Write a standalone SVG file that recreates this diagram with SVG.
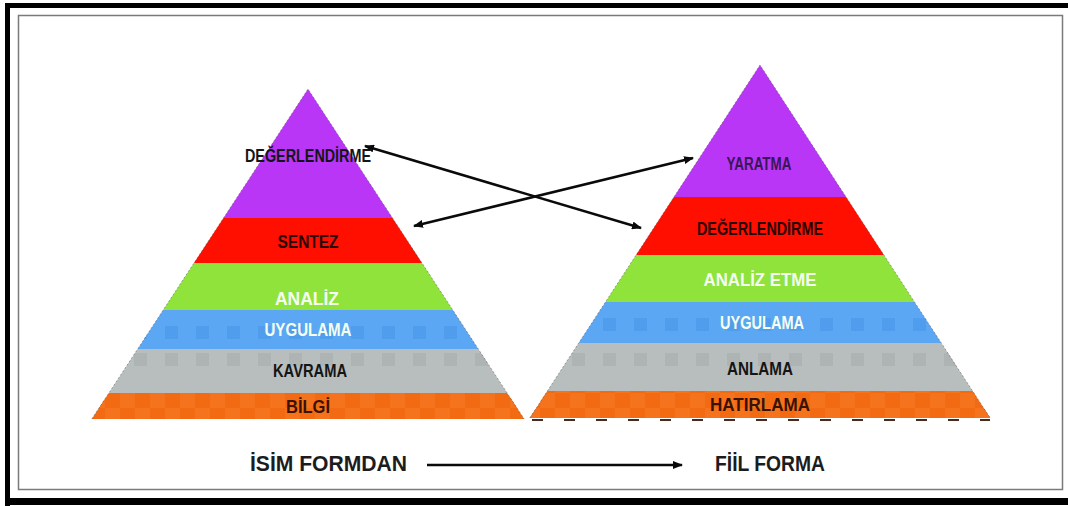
<svg xmlns="http://www.w3.org/2000/svg" width="1068" height="506" viewBox="0 0 1068 506">
<defs>
<style>
.lbl{font-family:"Liberation Sans",Arial,sans-serif;font-weight:bold;text-anchor:middle;font-size:18px}
.dk{fill:#151515}
.wh{fill:#f4fff0}
.big{font-size:22px;fill:#1c1c1c}
.conn{stroke:#0a0a0a;stroke-width:2.5;fill:none}
.purple{fill:#B936F7}
.red{fill:#FE0F00}
.green{fill:#8FE33B}
.blue{fill:#5BA7F3}
.gray{fill:#B8BDBD}
.orange{fill:#F26B12}
.edge{fill:none;stroke:#444;stroke-width:1;stroke-dasharray:2 2;stroke-opacity:0.45}
</style>
<marker id="ah" viewBox="0 0 10 8" refX="9" refY="4" markerWidth="10" markerHeight="8" markerUnits="userSpaceOnUse" orient="auto-start-reverse">
<path d="M0,0 L10,4 L0,8 Z" fill="#0a0a0a"/>
</marker>
<pattern id="blueL" patternUnits="userSpaceOnUse" x="0" y="322" width="31" height="300"><rect x="10" y="4" width="13" height="13" fill="#509DEE"/></pattern>
<pattern id="blueR" patternUnits="userSpaceOnUse" x="4" y="314" width="31" height="300"><rect x="10" y="4" width="13" height="13" fill="#509DEE"/></pattern>
<pattern id="grayL" patternUnits="userSpaceOnUse" x="0" y="349" width="31" height="300"><rect x="10" y="4" width="13" height="13" fill="#AEB3B3"/></pattern>
<pattern id="grayR" patternUnits="userSpaceOnUse" x="4" y="346" width="31" height="300"><rect x="10" y="7" width="13" height="13" fill="#AEB3B3"/></pattern>
<pattern id="orTex" patternUnits="userSpaceOnUse" x="0" y="393" width="30" height="30"><rect x="0" y="0" width="15" height="15" fill="#F5731D"/><rect x="15" y="15" width="15" height="15" fill="#F5731D"/></pattern>
</defs>

<rect width="1068" height="506" fill="#ffffff"/>
<!-- frame -->
<rect x="5" y="3" width="1063" height="5" fill="#000"/>
<rect x="5" y="3" width="5" height="503" fill="#000"/>
<rect x="5" y="498" width="1063" height="7" fill="#000"/>
<rect x="18.5" y="15.5" width="1044" height="474" fill="none" stroke="#7a7a7a" stroke-width="1.5"/>

<!-- left pyramid -->
<g id="left-pyramid">
<g id="l-degerlendirme"><polygon class="purple" points="308,89 392.5,218 223.5,218"/></g>
<g id="l-sentez"><polygon class="red" points="223.5,218 392.5,218 422,263 194,263"/></g>
<g id="l-analiz"><polygon class="green" points="194,263 422,263 452.8,310 163.2,310"/></g>
<g id="l-uygulama"><polygon class="blue" points="163.2,310 452.8,310 478.3,349 137.7,349"/><polygon fill="url(#blueL)" points="163.2,310 452.8,310 478.3,349 137.7,349"/></g>
<g id="l-kavrama"><polygon class="gray" points="137.7,349 478.3,349 507.1,393 108.9,393"/><polygon fill="url(#grayL)" points="137.7,349 478.3,349 507.1,393 108.9,393"/></g>
<g id="l-bilgi"><polygon class="orange" points="108.9,393 507.1,393 524.2,419 91.8,419"/><polygon fill="url(#orTex)" points="108.9,393 507.1,393 524.2,419 91.8,419"/></g>
<polyline class="edge" points="91.8,419 308,89 524.2,419"/>
<text class="lbl dk" x="308" y="162" textLength="126" lengthAdjust="spacingAndGlyphs">DEĞERLENDİRME</text>
<text class="lbl" x="308" y="248" fill="#2a0505" textLength="61" lengthAdjust="spacingAndGlyphs">SENTEZ</text>
<text class="lbl wh" x="307" y="305" textLength="64" lengthAdjust="spacingAndGlyphs">ANALİZ</text>
<text class="lbl wh" x="308" y="336" textLength="87" lengthAdjust="spacingAndGlyphs">UYGULAMA</text>
<text class="lbl dk" x="310" y="377" textLength="74" lengthAdjust="spacingAndGlyphs">KAVRAMA</text>
<text class="lbl" x="308" y="413" fill="#3a1200" textLength="44" lengthAdjust="spacingAndGlyphs">BİLGİ</text>
</g>

<!-- right pyramid -->
<g id="right-pyramid">
<g id="r-yaratma"><polygon class="purple" points="760,65 846.1,197 673.9,197"/></g>
<g id="r-degerlendirme"><polygon class="red" points="673.9,197 846.1,197 883.9,255 636.1,255"/></g>
<g id="r-analiz-etme"><polygon class="green" points="636.1,255 883.9,255 914.5,302 605.5,302"/></g>
<g id="r-uygulama"><polygon class="blue" points="605.5,302 914.5,302 941.3,343 578.7,343"/><polygon fill="url(#blueR)" points="605.5,302 914.5,302 941.3,343 578.7,343"/></g>
<g id="r-anlama"><polygon class="gray" points="578.7,343 941.3,343 972.6,391 547.4,391"/><polygon fill="url(#grayR)" points="578.7,343 941.3,343 972.6,391 547.4,391"/></g>
<g id="r-hatirlama"><polygon class="orange" points="547.4,391 972.6,391 990.2,418 529.8,418"/><polygon fill="url(#orTex)" points="547.4,391 972.6,391 990.2,418 529.8,418"/></g>
<polyline class="edge" points="529.8,418 760,65 990.2,418"/>
<line x1="532" y1="420" x2="990" y2="420" stroke="#4a2a1a" stroke-width="2" stroke-dasharray="11 21"/>
<text class="lbl" x="759" y="170" fill="#3a1656" textLength="65" lengthAdjust="spacingAndGlyphs">YARATMA</text>
<text class="lbl" x="760" y="235" fill="#2a0505" textLength="126" lengthAdjust="spacingAndGlyphs">DEĞERLENDİRME</text>
<text class="lbl wh" x="760" y="286" textLength="113" lengthAdjust="spacingAndGlyphs">ANALİZ ETME</text>
<text class="lbl wh" x="762" y="329" textLength="84" lengthAdjust="spacingAndGlyphs">UYGULAMA</text>
<text class="lbl dk" x="760" y="375" textLength="66" lengthAdjust="spacingAndGlyphs">ANLAMA</text>
<text class="lbl" x="760" y="411" fill="#3a1200" textLength="100" lengthAdjust="spacingAndGlyphs">HATIRLAMA</text>
</g>

<!-- bottom labels -->
<g id="isim-formdan"><text class="lbl big" x="328.5" y="471" textLength="157" lengthAdjust="spacingAndGlyphs">İSİM FORMDAN</text></g>
<g id="fiil-forma"><text class="lbl big" x="770" y="471" textLength="110" lengthAdjust="spacingAndGlyphs">FİİL FORMA</text></g>

<!-- connectors -->
<g id="connectors">
<line class="conn" x1="365" y1="146" x2="641" y2="228" marker-start="url(#ah)" marker-end="url(#ah)"/>
<line class="conn" x1="414" y1="226" x2="693" y2="158" marker-start="url(#ah)" marker-end="url(#ah)"/>
<line class="conn" x1="427" y1="465" x2="682" y2="465" marker-end="url(#ah)"/>
</g>
</svg>
